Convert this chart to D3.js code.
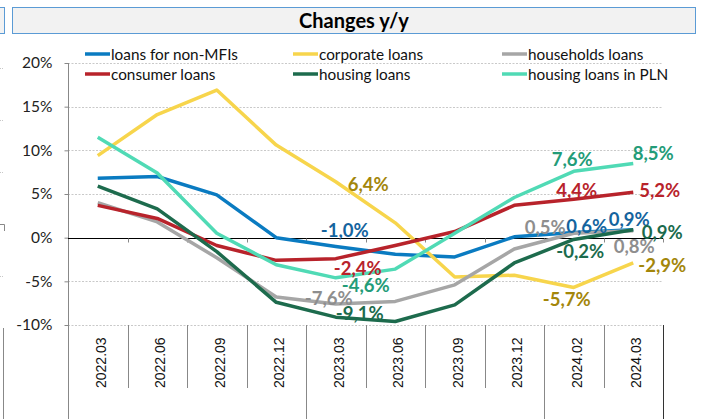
<!DOCTYPE html>
<html>
<head>
<meta charset="utf-8">
<script src="https://cdn.jsdelivr.net/npm/d3@7"></script>
<style>
html,body{margin:0;padding:0;background:#fff;}
svg{display:block;}
</style>
</head>
<body>
<svg id="chart" width="702" height="419"></svg>
<script>
// ---- data ----
const categories = ["2022.03","2022.06","2022.09","2022.12","2023.03","2023.06","2023.09","2023.12","2024.02","2024.03"];
const seriesNames = ["loans for non-MFIs","corporate loans","households loans","consumer loans","housing loans","housing loans in PLN"];
const loansNonMFI   = [6.8, 7.0, 4.9, 0.0, -1.0, -1.9, -2.2, 0.1, 0.6, 0.9];
const corporate     = [9.4, 14.1, 16.9, 10.6, 6.4, 1.7, -4.5, -4.3, -5.7, -2.9];
const households    = [4.0, 1.8, -2.3, -6.8, -7.6, -7.3, -5.4, -1.3, 0.5, 0.8];
const consumer      = [3.7, 2.2, -0.9, -2.6, -2.4, -0.9, 0.7, 3.7, 4.4, 5.2];
const housing       = [5.9, 3.3, -1.6, -7.4, -9.1, -9.6, -7.7, -2.9, -0.2, 0.9];
const housingPLN    = [11.5, 7.4, 0.5, -3.1, -4.6, -3.6, 0.5, 4.6, 7.6, 8.5];
const yTicks = [-10, -5, 0, 5, 10, 15, 20];
const title = "Changes y/y";

// ---- styles ----
const lineColors  = ["#0a7bc1","#f7d54c","#a6a6a6","#b8232b","#1d6b4d","#50dab5"];
const labelColors = ["#14649e","#a3860a","#8e8e8e","#b8232b","#1b6b4d","#239c78"];
const allSeries = [loansNonMFI, corporate, households, consumer, housing, housingPLN];

// label layout: [series index, category index, dx, dy]
const labelLayout = [
  [1,4,32.5,2],[0,4,9,-16],[3,4,22,9],[5,4,30,7],[2,4,-7,-6],[4,4,24,-4.5],
  [5,8,-1.5,-12.6],[5,9,20,-10],[3,8,3,-9.5],[3,9,26.5,-2],
  [2,8,-28.5,-6.6],[0,8,13,-6],[0,9,-4,-11],[4,9,29,2],[2,9,1,15],
  [4,8,6.5,12],[1,9,29,2],[1,8,-7,12]
];

const svg = d3.select("#chart");
const font = "Lato, 'Open Sans', sans-serif";

// neighbour chart fragments on the left edge
const frag = svg.append("g");
frag.append("rect").attr("x",-10).attr("y",7.5).attr("width",14.5).attr("height",26)
  .attr("fill","#f2f2f2").attr("stroke","#5b9bd5").attr("stroke-width",1);
[68,120,172,276].forEach(y=>frag.append("line").attr("x1",0).attr("x2",4).attr("y1",y+0.5).attr("y2",y+0.5)
  .attr("stroke","#c8c8c8").attr("stroke-dasharray","1,1"));
frag.append("path").attr("d","M0,224.5H4.5V231").attr("fill","none").attr("stroke","#888");
frag.append("line").attr("x1",3.5).attr("x2",3.5).attr("y1",328).attr("y2",419).attr("stroke","#888");

// title box
svg.append("rect").attr("x",12.5).attr("y",7.5).attr("width",683).attr("height",26)
  .attr("fill","#f2f2f2").attr("stroke","#5b9bd5").attr("stroke-width",1);
svg.append("text").attr("x",354).attr("y",28).attr("text-anchor","middle")
  .attr("font-family",font).attr("font-weight","bold").attr("font-size",20).attr("fill","#000").text(title);

// scales
const x = d3.scaleBand().domain(categories).range([68, 663]);
const y = d3.scaleLinear().domain([-10, 20]).range([325, 63]);
const cx = c => x(c) + x.bandwidth()/2;

// gridlines
svg.append("g").selectAll("line").data(yTicks.filter(t=>t!==0)).join("line")
  .attr("x1",68).attr("x2",663).attr("y1",d=>Math.round(y(d))+0.5).attr("y2",d=>Math.round(y(d))+0.5)
  .attr("stroke","#c9c9c9").attr("stroke-dasharray","2,1.5");

// y axis
const yAxis = svg.append("g").attr("transform","translate(68.5,0)")
  .call(d3.axisLeft(y).tickValues(yTicks).tickSize(4).tickPadding(12).tickFormat(d=>d+"%"));
yAxis.select(".domain").remove();
yAxis.selectAll(".tick line").attr("stroke","#888");
yAxis.selectAll(".tick text").attr("font-family",font).attr("font-size",15.5).attr("fill","#222");
svg.append("line").attr("x1",68.5).attr("x2",68.5).attr("y1",63).attr("y2",419).attr("stroke","#888");

// zero axis with ticks
const xAxis = svg.append("g").attr("transform",`translate(0,${Math.round(y(0))+0.5})`)
  .call(d3.axisBottom(x).tickSize(0).tickFormat(""));
xAxis.select(".domain").attr("stroke","#000").attr("d",`M68,0H663`);
const bounds = categories.map(c=>x(c)).concat([x.range()[1]]);
xAxis.selectAll(".bt").data(bounds.slice(1)).join("line").attr("class","bt")
  .attr("x1",d=>Math.round(d)+0.5).attr("x2",d=>Math.round(d)+0.5).attr("y1",0).attr("y2",4).attr("stroke","#888");

// category separators at bottom
const yearStarts = new Set([0, 4, 8, 10]);
svg.append("g").selectAll("line").data(bounds).join("line")
  .attr("x1",d=>Math.round(d)+0.5).attr("x2",d=>Math.round(d)+0.5)
  .attr("y1",325).attr("y2",(d,i)=>yearStarts.has(i)?419:388)
  .attr("stroke",(d,i)=>i===10?"#333":"#888");

// x labels
svg.append("g").selectAll("text").data(categories).join("text")
  .attr("transform",d=>`translate(${cx(d)+8},388) rotate(-90)`)
  .attr("font-family","'Liberation Sans', Arial, sans-serif").attr("font-size",14).attr("fill","#111")
  .text(d=>d);

// lines
const line = d3.line().x((d,i)=>cx(categories[i])).y(d=>y(d));
svg.append("g").selectAll("path").data(allSeries).join("path")
  .attr("d",d=>line(d)).attr("fill","none").attr("stroke",(d,i)=>lineColors[i])
  .attr("stroke-width",3.5).attr("stroke-linejoin","round");

// data labels
const fmt = v => d3.format(".1f")(v).replace(".",",").replace("−","-") + "%";
svg.append("g").selectAll("text").data(labelLayout).join("text")
  .attr("x",d=>cx(categories[d[1]])+d[2]).attr("y",d=>y(allSeries[d[0]][d[1]])+d[3])
  .attr("text-anchor","middle").attr("dominant-baseline","central")
  .attr("font-family",font).attr("font-weight","bold").attr("font-size",18.5)
  .attr("fill",d=>labelColors[d[0]]).text(d=>fmt(allSeries[d[0]][d[1]]));

// legend
const legPos = [[85,54],[293,54],[502,54],[85,74],[293,74],[502,74]];
const leg = svg.append("g").selectAll("g").data(seriesNames).join("g")
  .attr("transform",(d,i)=>`translate(${legPos[i][0]},${legPos[i][1]})`);
leg.append("line").attr("x1",0).attr("x2",25).attr("y1",0).attr("y2",0)
  .attr("stroke",(d,i)=>lineColors[i]).attr("stroke-width",3.5);
leg.append("text").attr("x",26).attr("y",0).attr("dominant-baseline","central")
  .attr("font-family",font).attr("font-size",15.3).attr("fill","#111").text(d=>d);
</script>
</body>
</html>
